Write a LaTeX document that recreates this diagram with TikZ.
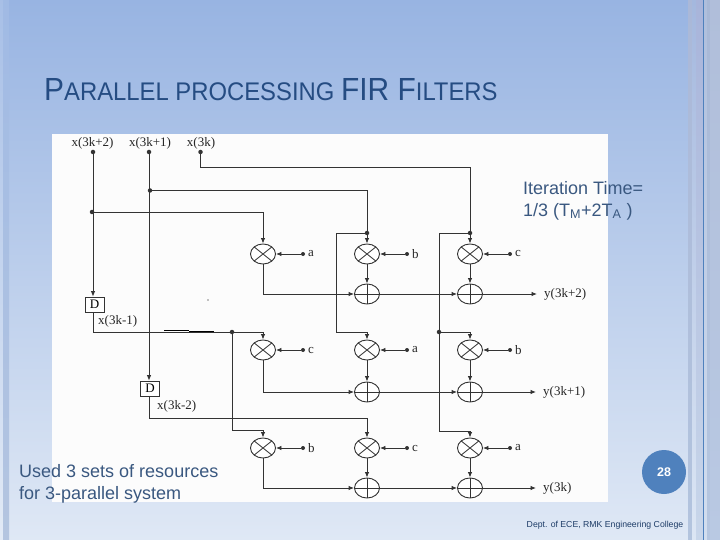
\documentclass[tikz,border=0pt]{standalone}
\usepackage{fontspec}
\setmainfont{Liberation Sans}
\newfontfamily\diagfont{Liberation Serif}
\newfontfamily\titlefont[FakeStretch=0.935]{Liberation Sans}
\usetikzlibrary{arrows.meta,shapes.geometric,calc}
\definecolor{bgtop}{HTML}{98B4E2}
\definecolor{bgbot}{HTML}{DFE8F5}
\definecolor{ink}{HTML}{3A5880}
\definecolor{titleink}{HTML}{254C82}
\definecolor{wire}{HTML}{333333}
\definecolor{disc}{HTML}{4F81BD}
\definecolor{lbb}{HTML}{B4C5E0}
\definecolor{ra}{HTML}{AAB8D8}
\definecolor{rb}{HTML}{B3C4DE}
\definecolor{rc}{HTML}{A4B8DE}
\definecolor{rd}{HTML}{DCE6F4}
\definecolor{re}{HTML}{A8B4DA}
\definecolor{rf}{HTML}{C8D6EA}
\definecolor{rg}{HTML}{AEBEDC}
\definecolor{rh}{HTML}{D2DEEF}
\definecolor{ri}{HTML}{A8B8D6}
\definecolor{rj}{HTML}{B5C6E0}
\definecolor{rk}{HTML}{B0BEDA}
\definecolor{rl}{HTML}{B9C9E3}
\tikzset{
  mulop/.style={draw=wire,line width=0.9pt,ellipse,minimum width=25pt,minimum height=20pt,inner sep=0pt,fill=white,
    path picture={\draw[wire,line width=0.8pt] (path picture bounding box.south west)--(path picture bounding box.north east)
      (path picture bounding box.north west)--(path picture bounding box.south east);}},
  addop/.style={draw=wire,line width=0.9pt,ellipse,minimum width=25pt,minimum height=20pt,inner sep=0pt,fill=white,
    path picture={\draw[wire,line width=0.6pt] (path picture bounding box.south)--(path picture bounding box.north)
      (path picture bounding box.west)--(path picture bounding box.east);}},
  delaybox/.style={draw=wire,line width=0.7pt,fill=white,minimum width=19pt,minimum height=15pt,inner sep=0pt,font=\diagfont\fontsize{13}{13}\selectfont},
  wirel/.style={draw=wire,line width=0.9pt},
  arrowl/.style={wirel,-{Latex[length=5.5pt,width=4.5pt]}},
  jdot/.style={circle,fill=wire,minimum size=4.5pt,inner sep=0pt},
  sig/.style={text=black!85,inner sep=0pt,font=\diagfont\fontsize{13}{13}\selectfont},
  bodyt/.style={text=ink,inner sep=0pt,align=left,anchor=north west,font=\fontsize{18}{22}\selectfont},
}
\begin{document}
\begin{tikzpicture}[x=1pt,y=-1pt]
\useasboundingbox (0,0) rectangle (720,540);
\shade[top color=bgtop,bottom color=bgbot] (0,0) rectangle (720,540);
% side bands
\shade[top color=bgtop!85!white,bottom color=bgbot!90!white] (0,0) rectangle (3,540);
\shade[top color=bgtop!92!white,bottom color=lbb] (3,0) rectangle (9,540);
\shade[top color=ra,bottom color=rb] (688,0) rectangle (692,540);
\shade[top color=rc,bottom color=rd] (692,0) rectangle (696,540);
\shade[top color=re,bottom color=rf] (696,0) rectangle (703,540);
\shade[top color=rg,bottom color=rh] (703,0) rectangle (707,540);
\shade[top color=ri,bottom color=rj] (707,0) rectangle (710,540);
\shade[top color=rk,bottom color=rl] (710,0) rectangle (720,540);
\draw[disc,line width=.9pt] (703,0)--(703,540);
% title
\node[text=titleink,anchor=base west,inner sep=0pt] (title) at (44,101)
  {\titlefont\fontsize{32}{32}\selectfont P\fontsize{25.5}{25}\selectfont ARALLEL PROCESSING \fontsize{32}{32}\selectfont FIR F\fontsize{25.5}{25}\selectfont ILTERS};
% picture panel
\fill[white!98!gray] (52,134) rectangle (608,502);
% operators
\foreach \nm/\xx in {a/263,b/367,c/470}{
  \foreach \rw/\ym in {1/254,2/350,3/448}{
    \node[mulop] (m\nm\rw) at (\xx,\ym) {};
  }
}
\foreach \nm/\xx in {b/367,c/470}{
  \foreach \rw/\ya in {1/294,2/392,3/488}{
    \node[addop] (s\nm\rw) at (\xx,\ya) {};
  }
}
\node[delaybox] (d1) at (94.5,304.5) {D};
\node[delaybox] (d2) at (150,388.5) {D};
% inputs
\node[jdot] (i2) at (93,152) {};
\node[jdot] (i1) at (149,152) {};
\node[jdot] (i0) at (200.5,152) {};
\node[sig] (li2) at (92.5,143) {x(3k+2)};
\node[sig] (li1) at (150,143) {x(3k+1)};
\node[sig] (li0) at (201,143) {x(3k)};
\node[jdot] (j2) at (92,212) {};
\node[jdot] (j1) at (150,190.5) {};
\node[jdot] (j3) at (367,233) {};
\node[jdot] (j4) at (470,233) {};
\node[jdot] (j5) at (232,332) {};
\node[jdot] (j6) at (439,332) {};
\coordinate (k0) at (200.5,167);
\coordinate (k1) at (336,233);
\coordinate (k2) at (439,233);
\coordinate (k3) at (470,167);
% input wiring
\draw[arrowl] (i2) -- (d1.north -| i2);
\draw[arrowl] (i1) -- (d2.north -| i1);
\draw[wirel] (i0) -- (k0) -- (k3) -- (j4);
\draw[arrowl] (j4) -- (mc1);
\draw[wirel] (j1) -- (j1 -| j3) -- (j3);
\draw[arrowl] (j3) -- (mb1);
\draw[arrowl] (j2) -| (ma1);
% delay outputs
\draw[arrowl] (d1.south -| i2) |- (ma2.north |- j5) -- (ma2);
\draw[arrowl] (d2.south -| i1) |- (mb3.north |- 0,418) -- (mb3);
\draw[arrowl] (j5) |- (ma3.north |- 0,430) -- (ma3);
% branch rows
\draw[arrowl] (j3) -- (k1) |- (mb2.north |- 0,332) -- (mb2);
\draw[wirel] (j4) -- (k2) -- (j6);
\draw[arrowl] (j6) -- (mc2.north |- j6) -- (mc2);
\draw[arrowl] (j6) |- (mc3.north |- 0,431) -- (mc3);
% products to adders
\foreach \nm in {b,c}{\foreach \rw in {1,2,3}{\draw[arrowl] (m\nm\rw) -- (s\nm\rw);}}
% row sums
\node[sig,anchor=west] (y1) at (544,294) {y(3k+2)};
\node[sig,anchor=west] (y2) at (543,392) {y(3k+1)};
\node[sig,anchor=west] (y3) at (543,488) {y(3k)};
\foreach \rw/\yy in {1/y1,2/y2,3/y3}{
  \draw[arrowl] (ma\rw) |- (sb\rw);
  \draw[arrowl] (sb\rw) -- (sc\rw);
  \draw[arrowl] (sc\rw) -- ($(\yy.west)+(-7,0)$);
}
% coefficients
\foreach \nm/\xx/\rw/\lab in {a/303/1/a,b/407/1/b,c/510/1/c,a/303/2/c,b/407/2/a,c/510/2/b,a/303/3/b,b/407/3/c,c/510/3/a}{
  \node[jdot,minimum size=4pt] (q\nm\rw) at (\xx,0 |- m\nm\rw) {};
  \node[sig,anchor=west] (t\nm\rw) at ($(q\nm\rw)+(5,0)$) {\lab};
  \draw[arrowl] (q\nm\rw) -- (m\nm\rw);
}
% retouch marks
\draw[black,line width=.8pt] (164,330.5)--(189,330.5) (189,331.5)--(214,331.5);
\fill[black] (208,300) circle (.6pt);
% wire labels
\node[sig,anchor=west] (ld1) at (98,321) {x(3k-1)};
\node[sig,anchor=west] (ld2) at (157,406) {x(3k-2)};
% texts
\node[bodyt] (iter) at (523,181) {Iteration Time=\\1/3 (T\textsubscript{M}+2T\textsubscript{A} )};
\node[bodyt] (used) at (19,464) {Used 3 sets of resources\\for 3-parallel system};
% page number
\node[circle,fill=disc,minimum size=44pt,inner sep=0pt,text=white,font=\bfseries\fontsize{12.5}{13}\selectfont] (page) at (664,472) {28};
\node[text=titleink!80!black,inner sep=0pt,font=\fontsize{8.7}{10}\selectfont] (foot) at (605,525) {Dept. of ECE, RMK Engineering College};
\end{tikzpicture}
\end{document}
